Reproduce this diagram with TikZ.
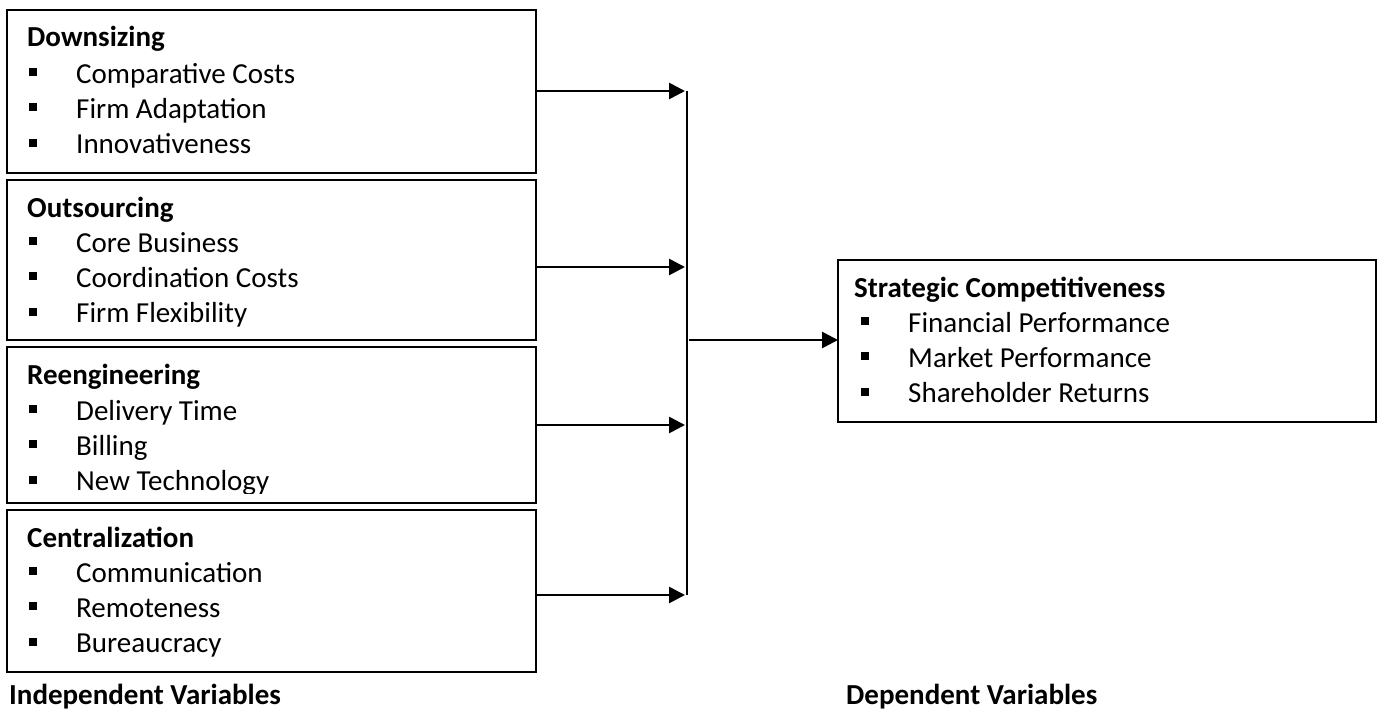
\documentclass[tikz,border=0pt]{standalone}
\usepackage{fontspec}
\setmainfont{Carlito}
\usetikzlibrary{arrows.meta}
\tikzset{
  box/.style={draw, line width=2.3pt, anchor=north west, inner sep=0pt, outer sep=0pt},
  txt/.style={anchor=base west, inner sep=0pt, font=\fontsize{29}{35}\selectfont},
  ttl/.style={anchor=base west, inner sep=0pt, font=\fontsize{29}{35}\selectfont\bfseries},
  arr/.style={line width=2.7pt, -{Triangle[length=16pt,width=16pt]}},
  vline/.style={line width=1.5pt},
  sqb/.style={fill=black, minimum size=8pt, inner sep=0pt, anchor=center}
}
\newcommand\blist[5]{%
  \foreach \t [count=\i] in {#5}{%
    \node[sqb] (#1b\i) at (#2, {#4+35.4*(\i-1)-11}) {};
    \node[txt] (#1i\i) at (#3, {#4+35.4*(\i-1)}) {\t};
  }%
}
\begin{document}
\begin{tikzpicture}[x=1pt,y=-1pt]
\useasboundingbox (0,0) rectangle (1380,709);

% left boxes
\node[box, minimum width=529pt, minimum height=163pt] (b1) at (7,10) {};
\node[box, minimum width=529pt, minimum height=160pt] (b2) at (7,180) {};
\node[box, minimum width=529pt, minimum height=156pt] (b3) at (7,347) {};
\node[box, minimum width=529pt, minimum height=162pt] (b4) at (7,510) {};
% right box
\node[box, minimum width=538pt, minimum height=162pt] (r) at (838,260) {};

% contents
\node[ttl] (b1t) at (27,47) {Downsizing};
\blist{b1}{33}{76}{83}{Comparative Costs,Firm Adaptation,Innovativeness}
\node[ttl] (b2t) at (27,217) {Outsourcing};
\blist{b2}{33}{76}{252}{Core Business,Coordination Costs,Firm Flexibility}
\begin{scope}
\clip (7,347) rectangle (536,493);
\node[ttl] (b3t) at (27,384) {Reengineering};
\blist{b3}{33}{76}{420}{Delivery Time,Billing,New Technology}
\end{scope}
\node[ttl] (b4t) at (27,547) {Centralization};
\blist{b4}{33}{76}{582}{Communication,Remoteness,Bureaucracy}
\node[ttl] (rt) at (854,297) {Strategic Competitiveness};
\blist{r}{865}{908}{332}{Financial Performance,Market Performance,Shareholder Returns}

% labels
\node[ttl] (indep) at (9,704) {Independent Variables};
\node[ttl] (dep) at (846,704) {Dependent Variables};

% connectors
\coordinate (j1) at (685,91);
\coordinate (j2) at (685,267);
\coordinate (j3) at (685,425);
\coordinate (j4) at (685,595);
\coordinate (vt) at (687,91);
\coordinate (vb) at (687,595);
\coordinate (m) at (689,340);
\draw[vline] (vt) -- (vb);
\draw[arr] (b1.east |- j1) -- (j1);
\draw[arr] (b2.east |- j2) -- (j2);
\draw[arr] (b3.east |- j3) -- (j3);
\draw[arr] (b4.east |- j4) -- (j4);
\draw[arr] (m) -- (r.west |- m);
\end{tikzpicture}
\end{document}
